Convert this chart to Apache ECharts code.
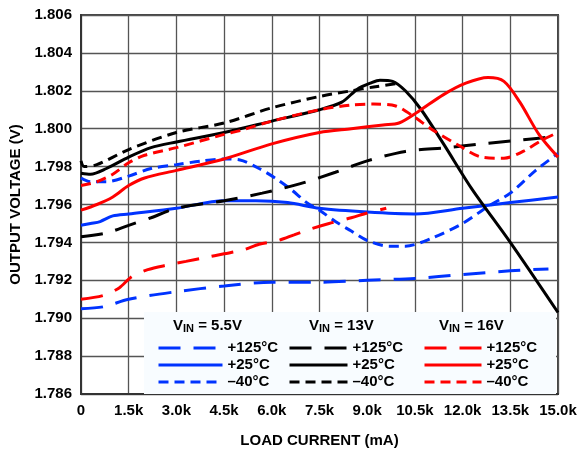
<!DOCTYPE html>
<html><head><meta charset="utf-8">
<script src="https://cdn.jsdelivr.net/npm/echarts@6/dist/echarts.min.js"></script>
<style>html,body{margin:0;padding:0;background:#fff}#c{width:584px;height:453px}</style>
</head><body><div id="c"></div>
<script>
// x in mA, y in V
const xTicks = [0,1500,3000,4500,6000,7500,9000,10500,12000,13500,15000];
const xTickLabels = ['0','1.5k','3.0k','4.5k','6.0k','7.5k','9.0k','10.5k','12.0k','13.5k','15.0k'];
const yTickLabels = ['1.786','1.788','1.790','1.792','1.794','1.796','1.798','1.800','1.802','1.804','1.806'];

const v55_125 = [[0,1.7905],[700,1.7906],[1500,1.7910],[3000,1.7914],[4500,1.7917],[6000,1.7919],[7500,1.7919],[9000,1.7920],[10500,1.7921],[12000,1.7923],[13500,1.7925],[14700,1.7926]];
const v55_25 = [[0,1.7949],[300,1.7950],[600,1.7951],[1000,1.7954],[1500,1.7955],[3000,1.7958],[4500,1.7962],[5500,1.7962],[6500,1.7961],[7500,1.7958],[9000,1.7956],[10500,1.7955],[12000,1.7958],[13500,1.7961],[15000,1.7964]];
const v55_m40 = [[0,1.7974],[300,1.7972],[800,1.7972],[1500,1.7975],[2200,1.7979],[3000,1.7981],[3800,1.7983],[4500,1.7984],[5000,1.79835],[5600,1.7979],[6100,1.7974],[6600,1.7968],[7100,1.7961],[7500,1.7957],[8000,1.7951],[8500,1.7946],[9000,1.7941],[9700,1.7938],[10200,1.7938],[11000,1.7942],[12000,1.7950],[12800,1.7959],[13500,1.7966],[14300,1.7978],[15000,1.7987]];

const v13_125 = [[0,1.7943],[800,1.7945],[1500,1.7949],[2200,1.7953],[3000,1.7958],[4500,1.7962],[5700,1.7966],[6900,1.7971],[8000,1.7977],[9000,1.7983],[10200,1.7988],[11500,1.7990],[12600,1.7992],[13800,1.7994],[15000,1.7996]];
const v13_25 = [[0,1.79765],[300,1.7976],[800,1.7979],[1500,1.7985],[2200,1.7990],[3000,1.7993],[4500,1.7998],[6000,1.8004],[7500,1.8010],[8200,1.8014],[8700,1.8021],[9100,1.8024],[9400,1.80256],[9800,1.8025],[10200,1.8020],[10700,1.8010],[11400,1.7992],[12300,1.7968],[13500,1.7940],[15000,1.7903]];
const v13_m40 = [[0,1.7983],[100,1.7980],[500,1.7981],[1500,1.7989],[3000,1.7998],[4500,1.8003],[6000,1.8011],[7500,1.8017],[8500,1.8020],[9200,1.8022],[10000,1.8024]];

const v16_125 = [[0,1.7910],[700,1.7912],[1200,1.7916],[1600,1.7922],[2100,1.79256],[2700,1.7928],[3300,1.7930],[3900,1.7932],[4500,1.7934],[5100,1.7936],[5600,1.7939],[6200,1.7941],[6700,1.7944],[7200,1.7947],[7800,1.7950],[8500,1.7953],[9000,1.79555],[9600,1.7958]];
const v16_25 = [[0,1.7957],[500,1.7960],[1000,1.7964],[1500,1.7970],[2000,1.7974],[3000,1.7978],[4500,1.7984],[6000,1.7992],[7500,1.7998],[8500,1.8000],[9500,1.8002],[10000,1.8003],[10600,1.8009],[11400,1.8018],[12100,1.8024],[12800,1.8027],[13300,1.8025],[13800,1.8014],[14400,1.7997],[15000,1.7985]];
const v16_m40 = [[0,1.7970],[500,1.7972],[1000,1.7976],[1500,1.7982],[2000,1.7986],[3000,1.7990],[4500,1.7997],[5000,1.7999],[6000,1.8004],[7500,1.8010],[8500,1.80125],[9200,1.8013],[9900,1.8012],[10500,1.8006],[11000,1.8000],[11900,1.7991],[12600,1.7985],[13300,1.79844],[13900,1.7988],[14500,1.7994],[15000,1.7998]];

const FONT = '"Liberation Sans", Arial, sans-serif';
const BLUE = '#0033ff', RED = '#ff0000', BLACK = '#000000';
const LONG = [22,13], SHORT = [10,6];

function mk(name, data, color, dash){
  return {name, type:'line', data, smooth:0.3, symbol:'none', showSymbol:false,
    lineStyle:{color, width:3, type: dash, cap:'butt'}, itemStyle:{color}, z:3};
}
const series = [
  mk('a|+125°C', v55_125, BLUE, LONG),
  mk('a|+25°C', v55_25, BLUE, 'solid'),
  mk('a|–40°C', v55_m40, BLUE, SHORT),
  mk('b|+125°C', v13_125, BLACK, LONG),
  mk('b|+25°C', v13_25, BLACK, 'solid'),
  mk('b|–40°C', v13_m40, BLACK, SHORT),
  mk('c|+125°C', v16_125, RED, LONG),
  mk('c|+25°C', v16_25, RED, 'solid'),
  mk('c|–40°C', v16_m40, RED, SHORT)
];

function lg(prefix, left, w, gap){
  return {orient:'vertical', left, top:340, itemWidth:w, itemHeight:14, itemGap:1, itemTextGap:gap,
    selectedMode:false, padding:0,
    itemStyle:{opacity:0, borderWidth:0},
    lineStyle:{width:3},
    data:['+125°C','+25°C','–40°C'].map(s=>prefix+'|'+s),
    formatter: n => n.split('|')[1],
    textStyle:{fontFamily:FONT, fontWeight:'bold', fontSize:15, color:'#000', lineHeight:16}};
}

const chart = echarts.init(document.getElementById('c'), null, {renderer:'canvas'});
chart.setOption({
  animation:false,
  backgroundColor:'#fff',
  grid:{left:81, right:26, top:15, bottom:58, show:true, borderColor:'#444', borderWidth:2, containLabel:false},
  xAxis:{type:'value', min:0, max:15000, interval:1500,
    name:'LOAD CURRENT (mA)', nameLocation:'middle', nameGap:39,
    nameTextStyle:{fontFamily:FONT, fontWeight:'bold', fontSize:15, color:'#000'},
    axisLine:{show:true, lineStyle:{color:'#333', width:2}}, axisTick:{show:false},
    splitLine:{show:true, lineStyle:{color:'#555', width:1.3}},
    axisLabel:{margin:9, fontFamily:FONT, fontWeight:'bold', fontSize:15, color:'#000',
      formatter: v => { const i = xTicks.indexOf(Math.round(v)); return i>=0 ? xTickLabels[i] : ''; }}},
  yAxis:{type:'value', min:1.786, max:1.806, interval:0.002,
    name:'OUTPUT VOLTAGE (V)', nameLocation:'middle', nameGap:57,
    nameTextStyle:{fontFamily:FONT, fontWeight:'bold', fontSize:15, color:'#000'},
    axisLine:{show:true, lineStyle:{color:'#333', width:2}}, axisTick:{show:false},
    splitLine:{show:true, lineStyle:{color:'#555', width:1.3}},
    axisLabel:{margin:9, fontFamily:FONT, fontWeight:'bold', fontSize:15, color:'#000',
      formatter: v => yTickLabels[Math.round((v-1.786)/0.002)] || ''}},
  legend:[lg('a',157,64,2), lg('b',288,58,8), lg('c',423,57,6)],
  graphic:[
    {type:'rect', left:144, top:312, shape:{width:412, height:82}, style:{fill:'#f8fcff'}, z:1, silent:true},
    {type:'text', left:173, top:318, z:10, style:{text:'V{s|IN} = 5.5V', fill:'#000',
      font:'bold 15px '+FONT, rich:{s:{fontSize:11, fontWeight:'bold', fontFamily:FONT, verticalAlign:'bottom', padding:[6,0,0,0]}}}},
    {type:'text', left:309, top:318, z:10, style:{text:'V{s|IN} = 13V', fill:'#000',
      font:'bold 15px '+FONT, rich:{s:{fontSize:11, fontWeight:'bold', fontFamily:FONT, verticalAlign:'bottom', padding:[6,0,0,0]}}}},
    {type:'text', left:439, top:318, z:10, style:{text:'V{s|IN} = 16V', fill:'#000',
      font:'bold 15px '+FONT, rich:{s:{fontSize:11, fontWeight:'bold', fontFamily:FONT, verticalAlign:'bottom', padding:[6,0,0,0]}}}}
  ],
  series
});
</script></body></html>
